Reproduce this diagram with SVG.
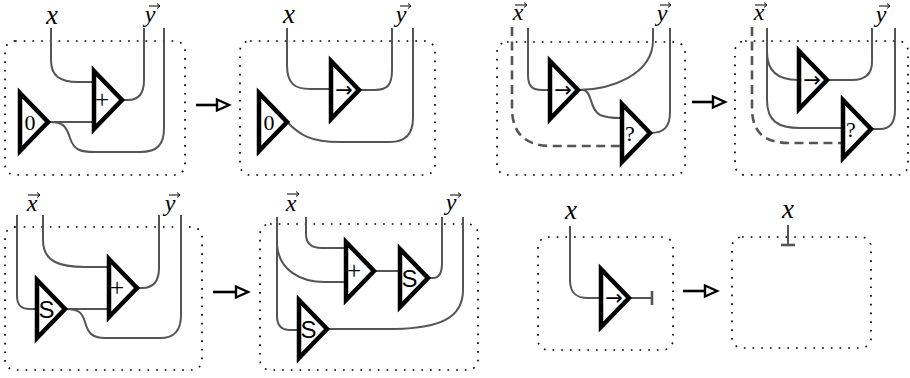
<svg xmlns="http://www.w3.org/2000/svg" xmlns:xlink="http://www.w3.org/1999/xlink" width="910" height="378" viewBox="0 0 910 378">
<style>
.box{fill:none;stroke:#000;stroke-width:1.7;stroke-dasharray:1.7 7}
.w{fill:none;stroke:#555;stroke-width:2}
.d{fill:none;stroke:#555;stroke-width:2.6;stroke-dasharray:9 5.5}
.tri{fill:#fff;stroke:#000;stroke-width:4.5;stroke-linejoin:miter;stroke-miterlimit:10}
.lab{font-family:"Liberation Serif","Times New Roman",serif;font-style:italic;fill:#000;text-anchor:middle}
.big{font-size:27px}
.vec{font-size:24px}
.va{fill:none;stroke:#000;stroke-width:1}
.sym{font-family:"Liberation Serif","Times New Roman",serif;font-size:22px;fill:#000;text-anchor:middle}
.plus{font-size:25px}
.s{font-family:"Liberation Sans",Arial,sans-serif;font-size:24px;fill:#000;text-anchor:middle}
.ar{font-family:"DejaVu Sans",sans-serif;font-size:21px;fill:#000;text-anchor:middle}
.rw{fill:none;stroke:#000;stroke-width:2.6}
.rh{fill:#fff;stroke:#000;stroke-width:2.4;stroke-linejoin:miter}
.bar{fill:none;stroke:#555;stroke-width:2.6}
</style>
<defs>
<polygon id="tri" points="0,-29 28,0 0,29"/>
</defs>

<g id="boxes">
<rect class="box" x="5" y="41" width="180" height="134" rx="10"/>
<rect class="box" x="240" y="41" width="195" height="134" rx="10"/>
<rect class="box" x="497" y="42" width="188" height="133" rx="10"/>
<rect class="box" x="735" y="41" width="173" height="134" rx="10"/>
<rect class="box" x="5" y="227" width="197" height="143" rx="10"/>
<rect class="box" x="260" y="224" width="218" height="146" rx="10"/>
<rect class="box" x="538" y="237" width="135" height="113" rx="10"/>
<rect class="box" x="732" y="237" width="139" height="111" rx="10"/>
</g>

<g id="connectors">
<!-- panel 1 -->
<path class="w" d="M51,28 V60 C51,76 60,82 78,82 H93"/>
<path class="w" d="M122,100 H128 C140,100 144,92 144,80 V28"/>
<path class="w" d="M48,122 H93"/>
<path class="w" d="M50,122 C62,122 66,125 70,138 C74,150 80,152 95,152 H140 C158,152 164,144 164,128 V28"/>
<!-- panel 2 -->
<path class="w" d="M287,28 V65 C287,84 295,89 310,89 H330"/>
<path class="w" d="M359,90 H375 C388,90 392,84 392,70 V28"/>
<path class="w" d="M287,122 C300,135 310,142 340,142 H390 C406,142 413,134 413,118 V28"/>
<!-- panel 3 -->
<path class="d" d="M512,27 V108 C512,136 528,146 552,146 H621"/>
<path class="w" d="M528,28 V75 C528,87 533,90 542,90 H549"/>
<path class="w" d="M578,90 C610,90 653,75 653,40 V28"/>
<path class="w" d="M580,90 H584 C592,92 590,110 600,115 C607,118 614,118 621,118"/>
<path class="w" d="M650,133 C664,133 670,127 670,112 V28"/>
<!-- panel 4 -->
<path class="d" d="M752,27 V108 C752,134 766,143 790,143 H842"/>
<path class="w" d="M767,28 V52 C767,70 777,80 798,80"/>
<path class="w" d="M767,50 V100 C767,121 778,128 800,128 H842"/>
<path class="w" d="M827,80 H852 C866,80 872,74 872,62 V28"/>
<path class="w" d="M871,129 H880 C891,129 895,122 895,110 V28"/>
<!-- panel 5 -->
<path class="w" d="M17,215 V296 C17,306 22,309 30,309 H36"/>
<path class="w" d="M43,215 V240 C43,262 60,267 85,267 H108"/>
<path class="w" d="M65,309 H108"/>
<path class="w" d="M66,309 C78,309 82,312 85,322 C88,333 92,338 105,338 H160 C175,338 181,330 181,315 V215"/>
<path class="w" d="M137,288 H142 C154,288 159,281 159,268 V215"/>
<!-- panel 6 -->
<path class="w" d="M277,217 V316 C277,326 282,330 290,330 H298"/>
<path class="w" d="M277,245 C279,270 300,282 325,282 H345"/>
<path class="w" d="M306,217 V234 C306,244 312,248 322,248 H345"/>
<path class="w" d="M375,271 H399"/>
<path class="w" d="M428,278 H433 C439,278 442,273 442,263 V217"/>
<path class="w" d="M327,329 H395 C440,328 463,318 463,290 V217"/>
<!-- panel 7 -->
<path class="w" d="M570,226 V280 C570,293 576,298 588,298 H600"/>
<path class="w" d="M629,298 H652"/>
<path class="bar" d="M652,291 V305"/>
<!-- panel 8 -->
<path class="w" d="M788,225 V245"/>
<path class="bar" d="M781,245 H795"/>
</g>

<g id="p1-zero"><use xlink:href="#tri" class="tri" x="20" y="122"/><text class="sym" x="30" y="130">0</text></g>
<g id="p1-plus"><use xlink:href="#tri" class="tri" x="94" y="100"/><text class="sym plus" x="102" y="108">+</text></g>

<g id="p2-zero"><use xlink:href="#tri" class="tri" x="259" y="122"/><text class="sym" x="269" y="130">0</text></g>
<g id="p2-arrow"><use xlink:href="#tri" class="tri" x="331" y="90"/><text class="ar" x="344" y="97">→</text></g>

<g id="p3-arrow"><use xlink:href="#tri" class="tri" x="550" y="90"/><text class="ar" x="563" y="97">→</text></g>
<g id="p3-query"><use xlink:href="#tri" class="tri" x="622" y="133"/><text class="sym" x="630" y="141">?</text></g>

<g id="p4-arrow"><use xlink:href="#tri" class="tri" x="799" y="80"/><text class="ar" x="812" y="87">→</text></g>
<g id="p4-query"><use xlink:href="#tri" class="tri" x="843" y="129"/><text class="sym" x="851" y="137">?</text></g>

<g id="p5-succ"><use xlink:href="#tri" class="tri" x="37" y="309"/><text class="s" x="46.5" y="317.5">S</text></g>
<g id="p5-plus"><use xlink:href="#tri" class="tri" x="109" y="288"/><text class="sym plus" x="117" y="296">+</text></g>

<g id="p6-plus"><use xlink:href="#tri" class="tri" x="346" y="271"/><text class="sym plus" x="354" y="279">+</text></g>
<g id="p6-succ-top"><use xlink:href="#tri" class="tri" x="400" y="278"/><text class="s" x="409.5" y="286.5">S</text></g>
<g id="p6-succ-bottom"><use xlink:href="#tri" class="tri" x="299" y="329"/><text class="s" x="308.5" y="337.5">S</text></g>

<g id="p7-arrow"><use xlink:href="#tri" class="tri" x="601" y="298"/><text class="ar" x="614" y="305">→</text></g>

<g id="labels">
<text class="lab big" x="52" y="24">x</text>
<text class="lab vec" x="150" y="22">y</text><path class="va" d="M149,6 H160 M157,3.5 L160,6 L157,8.5"/>
<text class="lab big" x="289" y="23">x</text>
<text class="lab vec" x="401" y="22">y</text><path class="va" d="M400,6 H411 M408,3.5 L411,6 L408,8.5"/>
<text class="lab vec" x="518" y="20">x</text><path class="va" d="M515,5 H527 M524,2.5 L527,5 L524,7.5"/>
<text class="lab vec" x="662" y="21">y</text><path class="va" d="M660,5 H671 M668,2.5 L671,5 L668,7.5"/>
<text class="lab vec" x="759" y="20">x</text><path class="va" d="M755,5 H767 M764,2.5 L767,5 L764,7.5"/>
<text class="lab vec" x="881" y="22">y</text><path class="va" d="M879,6 H890 M887,3.5 L890,6 L887,8.5"/>
<text class="lab vec" x="32" y="211">x</text><path class="va" d="M28,195 H40 M37,192.5 L40,195 L37,197.5"/>
<text class="lab vec" x="170" y="211">y</text><path class="va" d="M169,195 H180 M177,192.5 L180,195 L177,197.5"/>
<text class="lab vec" x="291" y="211">x</text><path class="va" d="M287,194 H299 M296,191.5 L299,194 L296,196.5"/>
<text class="lab vec" x="451" y="210">y</text><path class="va" d="M450,195 H461 M458,192.5 L461,195 L458,197.5"/>
<text class="lab big" x="571" y="219">x</text>
<text class="lab big" x="788" y="218">x</text>
</g>

<g id="rewrite-arrows">
<path class="rw" d="M196,105 H217"/><polygon class="rh" points="217,99.5 229,105 217,110.5"/>
<path class="rw" d="M692,102 H713"/><polygon class="rh" points="713,96.5 725,102 713,107.5"/>
<path class="rw" d="M213,292 H236"/><polygon class="rh" points="236,286.5 248,292 236,297.5"/>
<path class="rw" d="M683,291 H705"/><polygon class="rh" points="705,285.5 717,291 705,296.5"/>
</g>
</svg>
